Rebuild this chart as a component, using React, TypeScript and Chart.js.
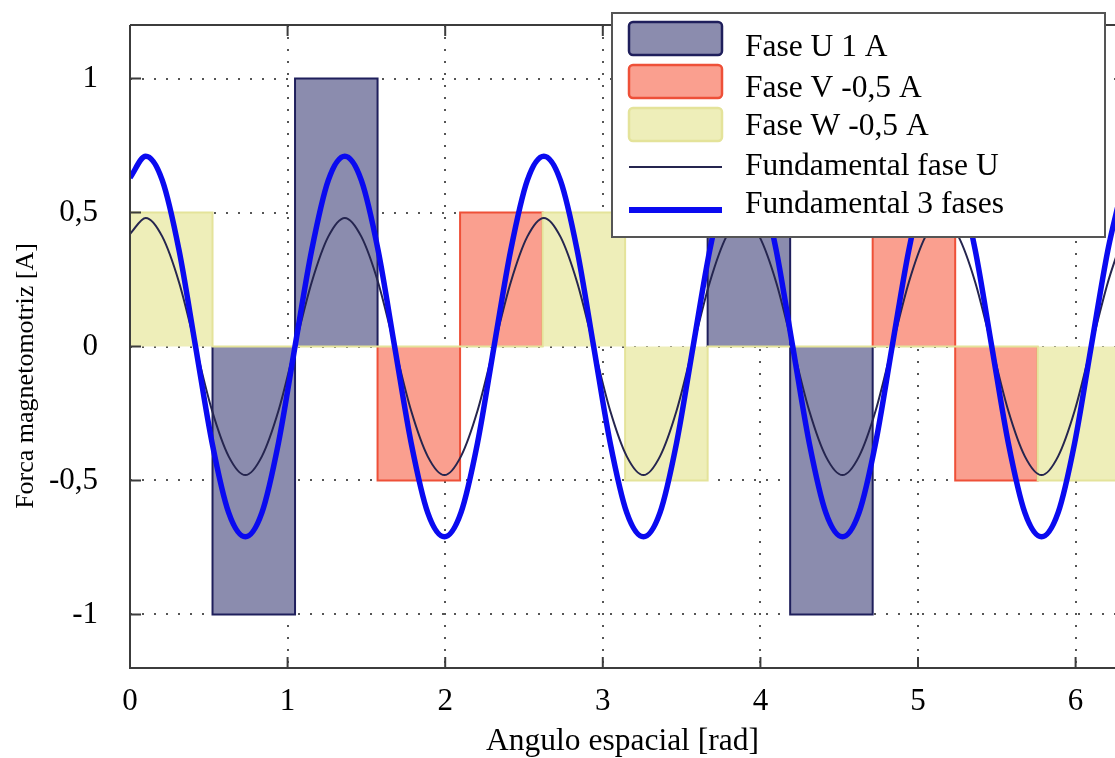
import React, { useEffect, useRef } from 'react';
import { Chart, registerables } from 'chart.js';

Chart.register(...registerables);

// Slot edges (rad) and per-slot MMF values of each phase
const slotEdges = [0, 0.5236, 1.0472, 1.5708, 2.0944, 2.618, 3.1416, 3.6652, 4.1888, 4.7124, 5.236, 5.7596, 6.2832];
const faseU = [0, -1, 1, 0, 0, 0, 0, 1, -1, 0, 0, 0];
const faseV = [0, 0, 0, -0.5, 0.5, 0, 0, 0, 0, 0.5, -0.5, 0];
const faseW = [0.5, 0, 0, 0, 0, 0.5, -0.5, 0, 0, 0, 0, -0.5];

// Sampled fundamentals
const anguloFund = [
  0, 0.1, 0.205, 0.311, 0.416, 0.521, 0.626, 0.732, 0.837, 0.942, 1.047, 1.153, 1.258,
  1.363, 1.468, 1.574, 1.679, 1.784, 1.889, 1.995, 2.1, 2.205, 2.31, 2.416, 2.521,
  2.626, 2.731, 2.837, 2.942, 3.047, 3.152, 3.258, 3.363, 3.468, 3.573, 3.679, 3.784,
  3.889, 3.994, 4.1, 4.205, 4.31, 4.415, 4.521, 4.626, 4.731, 4.836, 4.942, 5.047,
  5.152, 5.257, 5.363, 5.468, 5.573, 5.678, 5.784, 5.889, 5.994, 6.099, 6.205, 6.283,
];
const fundFaseU = [
  0.42, 0.48, 0.41, 0.24, 0, -0.24, -0.41, -0.48, -0.41, -0.24, 0, 0.24, 0.41,
  0.48, 0.41, 0.24, 0, -0.24, -0.41, -0.48, -0.41, -0.24, 0, 0.24, 0.41,
  0.48, 0.41, 0.24, 0, -0.24, -0.41, -0.48, -0.41, -0.24, 0, 0.24, 0.41,
  0.48, 0.41, 0.24, 0, -0.24, -0.41, -0.48, -0.41, -0.24, 0, 0.24, 0.41,
  0.48, 0.41, 0.24, 0, -0.24, -0.41, -0.48, -0.41, -0.24, 0, 0.24, 0.38,
];
const fund3Fases = [
  0.63, 0.71, 0.62, 0.36, 0, -0.36, -0.62, -0.71, -0.62, -0.36, 0, 0.36, 0.62,
  0.71, 0.62, 0.36, 0, -0.36, -0.62, -0.71, -0.62, -0.36, 0, 0.36, 0.62,
  0.71, 0.62, 0.36, 0, -0.36, -0.62, -0.71, -0.62, -0.36, 0, 0.36, 0.62,
  0.71, 0.62, 0.36, 0, -0.36, -0.62, -0.71, -0.62, -0.36, 0, 0.36, 0.62,
  0.71, 0.62, 0.36, 0, -0.36, -0.62, -0.71, -0.62, -0.36, 0, 0.36, 0.56,
];

const xTicks = [0, 1, 2, 3, 4, 5, 6];
const xTickLabels = ['0', '1', '2', '3', '4', '5', '6'];
const yTicks = [-1, -0.5, 0, 0.5, 1];
const yTickLabels = ['-1', '-0,5', '0', '0,5', '1'];
const seriesLabels = ['Fase U 1 A', 'Fase V -0,5 A', 'Fase W -0,5 A', 'Fundamental fase U', 'Fundamental 3 fases'];
const xTitle = 'Angulo espacial [rad]';
const yTitle = 'Forca magnetomotriz [A]';

const FONT_FAMILY = '"Liberation Serif", "Times New Roman", serif';
const colU = { fill: '#8b8cae', line: '#1f1f5c' };
const colV = { fill: '#fa9f8f', line: '#ee5038' };
const colW = { fill: '#eeeeb9', line: '#e4e39a' };
const colThin = '#25254f';
const colThick = '#0a0af0';

function stepPoints(vals: number[]) {
  const pts: { x: number; y: number }[] = [];
  vals.forEach((v, i) => {
    pts.push({ x: slotEdges[i], y: v });
    pts.push({ x: slotEdges[i + 1], y: v });
  });
  return pts;
}

function curvePoints(ys: number[]) {
  return anguloFund.map((x, i) => ({ x, y: ys[i] }));
}

// hide the along-zero stretches of a phase outline
function hideZero(color: string) {
  return (c: any) => (c.p0.parsed.y === 0 && c.p1.parsed.y === 0 ? 'rgba(0,0,0,0)' : color);
}

const framePlugin = {
  id: 'frameAndLegend',
  afterDatasetsDraw(chart: any) {
    const { ctx, chartArea: a, scales } = chart;
    const x = scales.x;
    const y = scales.y;
    ctx.save();
    ctx.strokeStyle = '#3c3c3c';
    ctx.lineWidth = 2;
    ctx.beginPath();
    ctx.moveTo(a.left, a.top);
    ctx.lineTo(a.left, a.bottom);
    ctx.lineTo(a.right, a.bottom);
    ctx.moveTo(a.left, a.top);
    ctx.lineTo(a.right, a.top);
    x.ticks.forEach((t: any) => {
      const px = x.getPixelForValue(t.value);
      ctx.moveTo(px, a.bottom);
      ctx.lineTo(px, a.bottom - 11);
      ctx.moveTo(px, a.top);
      ctx.lineTo(px, a.top + 11);
    });
    y.ticks.forEach((t: any) => {
      const py = y.getPixelForValue(t.value);
      ctx.moveTo(a.left, py);
      ctx.lineTo(a.left + 11, py);
    });
    ctx.stroke();
    ctx.restore();
  },
  afterDraw(chart: any) {
    const { ctx } = chart;
    ctx.save();
    // y axis title
    ctx.save();
    ctx.translate(26, 376);
    ctx.rotate(-Math.PI / 2);
    ctx.fillStyle = '#000000';
    ctx.font = '26px ' + FONT_FAMILY;
    ctx.textAlign = 'center';
    ctx.textBaseline = 'middle';
    ctx.fillText(yTitle, 0, 0);
    ctx.restore();
    // legend box
    ctx.fillStyle = '#ffffff';
    ctx.fillRect(612, 13, 493, 224);
    ctx.strokeStyle = '#555555';
    ctx.lineWidth = 2;
    ctx.strokeRect(612, 13, 493, 224);
    const sw = [colU, colV, colW];
    const swTops = [22, 65, 108];
    sw.forEach((c, i) => {
      ctx.beginPath();
      ctx.roundRect(629, swTops[i], 93, 33, 4);
      ctx.fillStyle = c.fill;
      ctx.fill();
      ctx.strokeStyle = c.line;
      ctx.lineWidth = 2.5;
      ctx.stroke();
    });
    ctx.beginPath();
    ctx.strokeStyle = colThin;
    ctx.lineWidth = 2;
    ctx.moveTo(629, 167);
    ctx.lineTo(722, 167);
    ctx.stroke();
    ctx.beginPath();
    ctx.strokeStyle = colThick;
    ctx.lineWidth = 6;
    ctx.moveTo(629, 210);
    ctx.lineTo(722, 210);
    ctx.stroke();
    ctx.fillStyle = '#000000';
    ctx.font = '31.5px ' + FONT_FAMILY;
    ctx.textBaseline = 'alphabetic';
    ctx.textAlign = 'left';
    const baselines = [56, 97, 135, 175, 213];
    seriesLabels.forEach((t, i) => ctx.fillText(t, 745, baselines[i]));
    ctx.restore();
  },
};

export default function App() {
  const ref = useRef<HTMLCanvasElement | null>(null);
  useEffect(() => {
    const canvas = ref.current;
    if (!canvas) return;
    const tickFont = { family: FONT_FAMILY, size: 31 };
    const chart = new Chart(canvas, {
      type: 'line',
      data: {
        datasets: [
          {
            label: seriesLabels[0],
            data: stepPoints(faseU),
            borderColor: colU.line,
            backgroundColor: colU.fill,
            borderWidth: 2,
            fill: 'origin',
            tension: 0,
            segment: { borderColor: hideZero(colU.line) },
            order: 5,
          },
          {
            label: seriesLabels[1],
            data: stepPoints(faseV),
            borderColor: colV.line,
            backgroundColor: colV.fill,
            borderWidth: 2,
            fill: 'origin',
            tension: 0,
            segment: { borderColor: hideZero(colV.line) },
            order: 4,
          },
          {
            label: seriesLabels[2],
            data: stepPoints(faseW),
            borderColor: colW.line,
            backgroundColor: colW.fill,
            borderWidth: 2,
            fill: 'origin',
            tension: 0,
            order: 3,
          },
          {
            label: seriesLabels[3],
            data: curvePoints(fundFaseU),
            borderColor: colThin,
            borderWidth: 2,
            fill: false,
            cubicInterpolationMode: 'monotone',
            order: 2,
          },
          {
            label: seriesLabels[4],
            data: curvePoints(fund3Fases),
            borderColor: colThick,
            borderWidth: 5.5,
            fill: false,
            cubicInterpolationMode: 'monotone',
            order: 1,
          },
        ],
      },
      options: {
        animation: false,
        responsive: false,
        devicePixelRatio: 1,
        layout: { padding: { top: 25, left: 0, right: 0, bottom: 0 } },
        elements: { point: { radius: 0, hoverRadius: 0 } },
        plugins: { legend: { display: false }, tooltip: { enabled: false } },
        scales: {
          x: {
            type: 'linear',
            min: 0,
            max: 6.25,
            afterBuildTicks: (s: any) => {
              s.ticks = xTicks.map((v) => ({ value: v }));
            },
            afterFit: (s: any) => {
              s.height = 90;
              s.paddingLeft = 0;
              s.paddingRight = 0;
            },
            grid: { color: '#555555', lineWidth: 2, drawTicks: false },
            border: { display: false, dash: [2, 10] },
            ticks: {
              font: tickFont,
              color: '#000000',
              padding: 15,
              maxRotation: 0,
              autoSkip: false,
              callback: (_v: any, i: number) => xTickLabels[i],
            },
            title: {
              display: true,
              text: xTitle,
              font: { family: FONT_FAMILY, size: 31.5 },
              color: '#000000',
              padding: { top: 0, bottom: -3 },
            },
          },
          y: {
            type: 'linear',
            min: -1.2,
            max: 1.2,
            afterBuildTicks: (s: any) => {
              s.ticks = yTicks.map((v) => ({ value: v }));
            },
            afterFit: (s: any) => {
              s.width = 130;
              s.paddingTop = 0;
              s.paddingBottom = 0;
            },
            grid: { color: '#555555', lineWidth: 2, drawTicks: false },
            border: { display: false, dash: [2, 10] },
            ticks: {
              font: tickFont,
              color: '#000000',
              padding: 32,
              autoSkip: false,
              callback: (_v: any, i: number) => yTickLabels[i],
            },
            title: { display: false },
          },
        },
      },
      plugins: [framePlugin],
    } as any);
    return () => chart.destroy();
  }, []);
  return (
    <div style={{ position: 'fixed', left: 0, top: 0, width: 1115, height: 758, background: '#fff', overflow: 'hidden' }}>
      <canvas ref={ref} width={1115} height={758} style={{ display: 'block' }} />
    </div>
  );
}
